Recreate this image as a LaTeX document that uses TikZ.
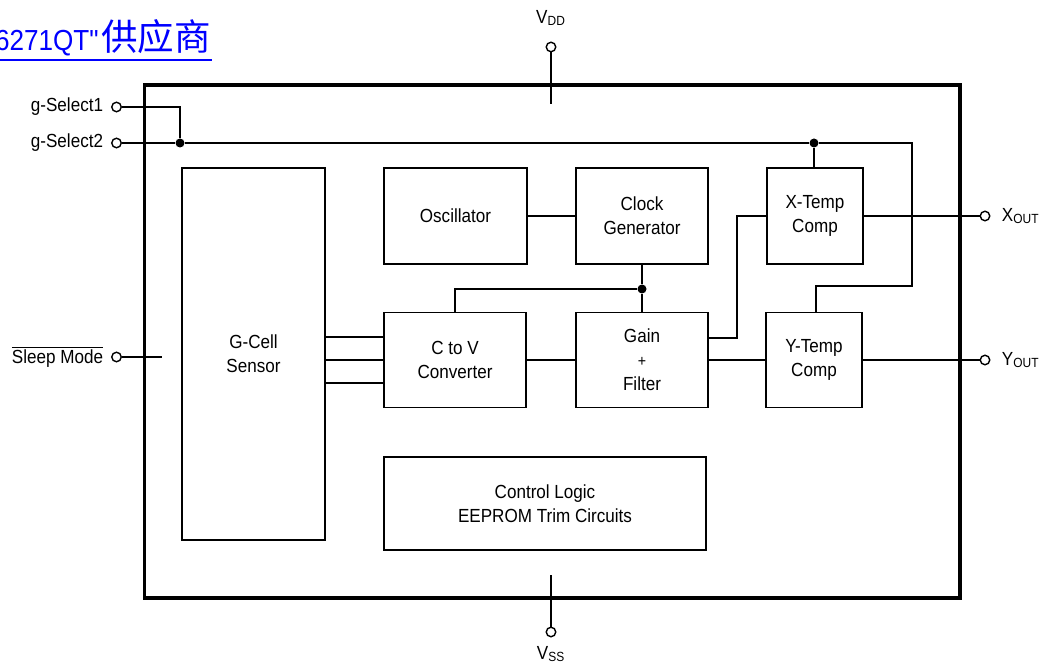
\documentclass[tikz,border=0pt]{standalone}
\usepackage{fontspec}
\setmainfont[FakeStretch=0.9]{Liberation Sans}
\newfontfamily\cjk[Scale=1.26]{Noto Sans CJK SC}
\usepackage{tikz}
\usetikzlibrary{positioning, calc}

\begin{document}
\begin{tikzpicture}[x=0.02cm, y=-0.02cm, line width=1.1pt,
    blk/.style={draw, align=center, inner sep=0pt,
                font=\fontsize{10.8}{13.6}\selectfont},
    pin/.style={draw, circle, fill=white, minimum size=0.19cm, inner sep=0pt, line width=0.8pt},
    dot/.style={circle, fill=black, minimum size=0.18cm, inner sep=0pt},
    lbl/.style={font=\fontsize{10.8}{13.6}\selectfont, inner sep=1.5pt}]
  \useasboundingbox (0,0) rectangle (1048,668);
  % title link
  \node[anchor=base east, text=blue, font=\fontsize{16.5}{20}\selectfont, inner sep=0pt]
    (title) at (212,51) {A6271QT\textquotedbl\kern1pt{\cjk 供应商}};
  \draw[blue, line width=1.2pt] (0,60) -- (title.base east |- 0,60);
  % chip outline
  \node[draw, line width=1.8pt, minimum width=16.32cm, minimum height=10.26cm] (chip) at (552,341.5) {};
  % blocks
  \node[blk, minimum width=2.86cm, minimum height=7.44cm] (sensor) at (253.5,354) {G-Cell\\Sensor};
  \node[blk, minimum width=2.86cm, minimum height=1.92cm] (osc) at (455.5,216) {Oscillator};
  \node[blk, minimum width=2.64cm, minimum height=1.92cm] (clk) at (642,216) {Clock\\Generator};
  \node[blk, minimum width=1.92cm, minimum height=1.92cm] (xtc) at (815,216) {X-Temp\\Comp};
  \node[blk, minimum width=2.84cm, minimum height=1.9cm] (ctov) at (455,360) {C to V\\Converter};
  \node[blk, minimum width=2.64cm, minimum height=1.9cm] (gain) at (642,360) {Gain\\{\small +}\\Filter};
  \node[blk, minimum width=1.92cm, minimum height=1.9cm] (ytc) at (814,360) {Y-Temp\\Comp};
  \node[blk, minimum width=6.44cm, minimum height=1.86cm] (ctrl) at (545,503.5) {Control Logic\\EEPROM Trim Circuits};
  % pins
  \node[pin] (gs1) at (116.5,107) {};
  \node[pin] (gs2) at (116.5,143) {};
  \node[pin] (slp) at (116.5,357) {};
  \node[pin] (vdd) at (551,47) {};
  \node[pin] (vss) at (551,632) {};
  \node[pin] (xout) at (985,216) {};
  \node[pin] (yout) at (985,360) {};
  \node[lbl, anchor=east, inner sep=4pt] at (gs1.west) {g-Select1};
  \node[lbl, anchor=east, inner sep=4pt] at (gs2.west) {g-Select2};
  \node[lbl, anchor=east, inner sep=4pt] at (slp.west) {$\overline{\mbox{Sleep Mode}}$};
  \node[lbl] at (551,18) {V\textsubscript{DD}};
  \node[lbl] at (551,654) {V\textsubscript{SS}};
  \node[lbl, anchor=west, inner sep=6pt] at (xout.east) {X\textsubscript{OUT}};
  \node[lbl, anchor=west, inner sep=6pt] at (yout.east) {Y\textsubscript{OUT}};
  % junctions
  \node[dot] (j1) at (180,143) {};
  \node[dot] (j2) at (814,143) {};
  \node[dot] (j3) at (642,289) {};
  \coordinate (c1) at (912,143);
  \coordinate (c2) at (912,286);
  \coordinate (c3) at (816,286);
  \coordinate (c4) at (737,338);
  % select lines
  \draw (gs1) -- (180,107) -- (j1);
  \draw (gs2) -- (j1) -- (j2) -- (c1) -- (c2) -- (c3) -- (c3 |- ytc.north);
  \draw (j2) -- (j2 |- xtc.north);
  \draw (slp) -- (162,357);
  % supplies
  \draw (vdd) -- (551,104);
  \draw (vss) -- (551,575);
  % signal path
  \draw (osc) -- (clk);
  \draw (clk) -- (j3) -- (gain);
  \draw (j3) -| (ctov);
  \foreach \dy in {-23,0,23}
    \draw ($(sensor.east |- ctov.west)+(0,\dy)$) -- ($(ctov.west)+(0,\dy)$);
  \draw (ctov) -- (gain);
  \draw (gain.east |- c4) -- (c4) |- (xtc.west);
  \draw (gain.east) -- (ytc.west);
  \draw (xtc.east) -- (xout);
  \draw (ytc.east) -- (yout);
\end{tikzpicture}
\end{document}
